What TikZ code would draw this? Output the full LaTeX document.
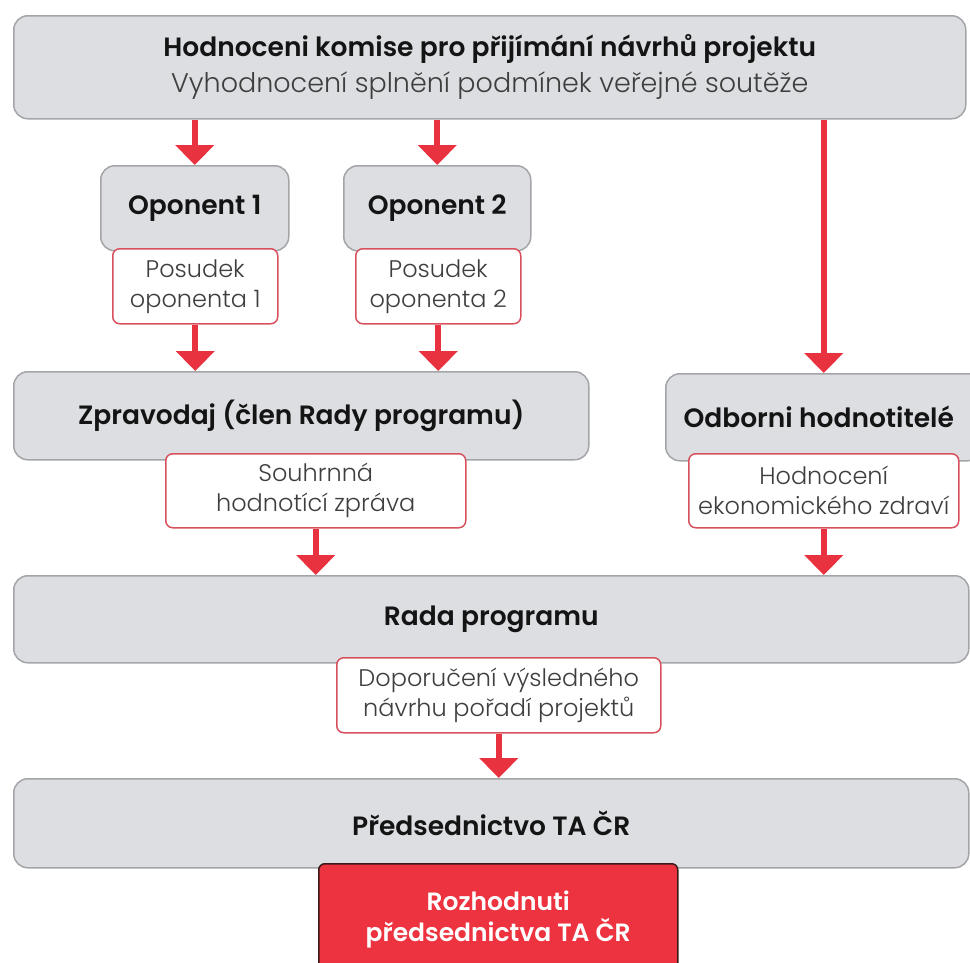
\documentclass[tikz,border=0pt]{standalone}
\usepackage{fontspec}
\setmainfont{Poppins}
\IfFontExistsTF{Poppins Light}{\newfontfamily\lightfont{Poppins Light}}{\newcommand\lightfont{\mdseries}}
\IfFontExistsTF{Poppins SemiBold}{\newfontfamily\semifont{Poppins SemiBold}}{\newcommand\semifont{\bfseries}}
\usetikzlibrary{arrows.meta}
\definecolor{boxgray}{HTML}{DCDEE1}
\definecolor{boxline}{HTML}{A3A5A8}
\definecolor{arrred}{HTML}{E8323F}
\definecolor{pinkline}{HTML}{D8505C}
\definecolor{redfill}{HTML}{EE3340}
\definecolor{redline}{HTML}{3B1A1A}
\definecolor{txtgray}{HTML}{3E3E3E}
\definecolor{txtdark}{HTML}{141414}
\begin{document}
\begin{tikzpicture}[x=1pt,y=1pt,
 graybox/.style={draw=boxline,line width=1.5pt,fill=boxgray,rounded corners=14pt,inner sep=0pt,
   align=center,text=txtdark,font=\semifont\fontsize{26.5}{32}\selectfont,anchor=north west},
 notebox/.style={draw=pinkline,line width=1.5pt,fill=white,rounded corners=7pt,inner sep=0pt,
   align=center,font=\lightfont\fontsize{24}{30}\selectfont,text=txtgray,anchor=north west},
 redbox/.style={draw=redline,line width=1.5pt,fill=redfill,rounded corners=6pt,inner sep=0pt,
   align=center,font=\semifont\fontsize{25}{31}\selectfont,text=white,anchor=north west},
 flow/.style={draw=arrred,line width=6pt,-{Triangle[width=38pt,length=20pt]}}
]
\useasboundingbox (0,0) rectangle (970,-962);
\begin{scope}
\clip (0,0) rectangle (970,-962);
% top
\node[graybox,minimum width=952pt,minimum height=103pt] (top) at (13,-15)
  {Hodnoceni komise pro přijímání návrhů projektu\\[4pt]
   {\lightfont\color{txtgray}\fontsize{27}{32}\selectfont Vyhodnocení splnění podmínek veřejné soutěže}};
% opponents
\node[graybox,minimum width=188pt,minimum height=85pt] (op1) at (100,-165) {\raisebox{-4pt}{Oponent 1}};
\node[graybox,minimum width=187pt,minimum height=85pt] (op2) at (343,-165) {\raisebox{-4pt}{Oponent 2}};
\node[notebox,minimum width=165pt,minimum height=75pt] (pos1) at (112,-248) {Posudek\\oponenta 1};
\node[notebox,minimum width=165pt,minimum height=75pt] (pos2) at (355,-248) {Posudek\\oponenta 2};
% second row
\node[graybox,minimum width=575pt,minimum height=88pt] (zpr) at (13,-371) {Zpravodaj (člen Rady programu)};
\node[graybox,minimum width=316pt,minimum height=87pt] (odb) at (665,-373) {\raisebox{-5pt}{Odborni hodnotitelé}\hspace*{10pt}};
\node[notebox,minimum width=300pt,minimum height=74pt] (souh) at (165,-453) {Souhrnná\\hodnotící zpráva};
\node[notebox,minimum width=270pt,minimum height=74pt] (hod) at (688,-453) {Hodnocení\\ekonomického zdraví};
% rada
\node[graybox,minimum width=955pt,minimum height=87pt] (rada) at (13,-575) {Rada programu};
\node[notebox,minimum width=324pt,minimum height=75pt] (dop) at (336,-657) {Doporučení výsledného\\návrhu pořadí projektů};
% predsednictvo
\node[graybox,minimum width=955pt,minimum height=89pt] (pred) at (13,-778) {Předsednictvo TA ČR};
\node[redbox,minimum width=359pt,minimum height=112pt] (roz) at (318,-863) {Rozhodnuti\\předsednictva TA ČR};
% arrows
\draw[flow] (top.south -| op1.north) -- (op1.north);
\draw[flow] (top.south -| op2.north) -- (op2.north);
\draw[flow] (top.south -| odb.north) -- (odb.north);
\draw[flow] (pos1.south) -- (pos1.south |- zpr.north);
\draw[flow] (pos2.south) -- (pos2.south |- zpr.north);
\draw[flow] (souh.south) -- (souh.south |- rada.north);
\draw[flow] (hod.south) -- (hod.south |- rada.north);
\draw[flow] (dop.south) -- (dop.south |- pred.north);
\end{scope}
\end{tikzpicture}
\end{document}
